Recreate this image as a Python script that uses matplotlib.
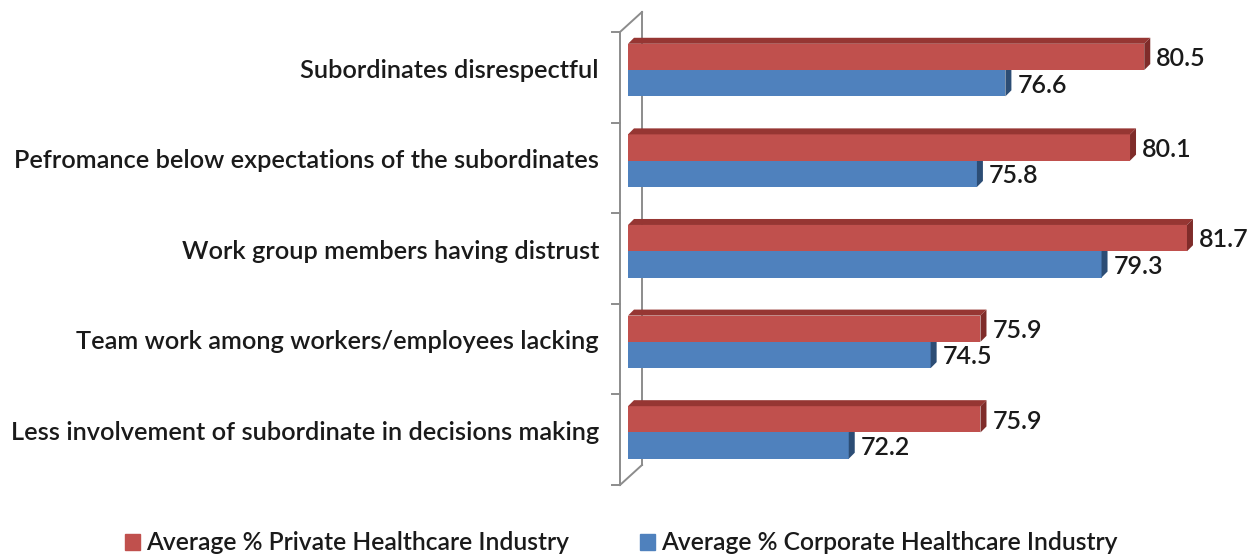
import matplotlib
matplotlib.use("Agg")
import matplotlib.pyplot as plt
from matplotlib.patches import Polygon, Rectangle
from matplotlib.lines import Line2D

categories = [
    "Subordinates disrespectful",
    "Pefromance below expectations of the subordinates",
    "Work group members having distrust",
    "Team work among workers/employees lacking",
    "Less involvement of subordinate in decisions making",
]
private_vals = [80.5, 80.1, 81.7, 75.9, 75.9]
corporate_vals = [76.6, 75.8, 79.3, 74.5, 72.2]
series_names = ["Average % Private Healthcare Industry",
                "Average % Corporate Healthcare Industry"]

RED, RED_DARK, RED_TOP = "#C0504D", "#7F2C2A", "#963633"
BLUE, BLUE_DARK = "#4F81BD", "#2C4D75"
WALL = "#8C8C8C"
FONT = "Lato"
TXT = "#1a1a1a"

W, H = 1250, 556
fig = plt.figure(figsize=(W / 100, H / 100), dpi=100)
fig.patch.set_facecolor("white")

# plot area in pixels
ax_l, ax_r, ax_t, ax_b = 628, 1250, 32, 485
ax = fig.add_axes([ax_l / W, (H - ax_b) / H, (ax_r - ax_l) / W, (ax_b - ax_t) / H])
XMIN, XMAX = 66.0, 83.47
ax.set_xlim(XMIN, XMAX)
ax.set_ylim(len(categories), 0)
ax.axis("off")

px_x = (ax_r - ax_l) / (XMAX - XMIN)      # pixels per x unit
px_y = (ax_b - ax_t) / len(categories)    # pixels per category
DX = 6 / px_x                              # depth offset (right)
DY = -6 / px_y                             # depth offset (up)

# bar placement inside each category band
R0, R1 = 0.13, 0.42
B0, B1 = 0.42, 0.71

# 3D wall on the left
def wline(xs, ys):
    ax.add_line(Line2D(xs, ys, transform=ax.transAxes, color=WALL, lw=1.4,
                       clip_on=False))

fx = (620 - ax_l) / (ax_r - ax_l)
bx = (642 - ax_l) / (ax_r - ax_l)
lift = 20 / (ax_b - ax_t)
wline([fx, fx], [0, 1])
wline([bx, bx], [lift, 1 + lift])
wline([fx, bx], [1, 1 + lift])
wline([fx, bx], [0, lift])
tx = (612 - ax_l) / (ax_r - ax_l)
for k in range(len(categories) + 1):
    yy = k / len(categories)
    wline([tx, fx], [yy, yy])

for i, (pv, cv) in enumerate(zip(private_vals, corporate_vals)):
    # corporate (blue) bar
    ax.barh(i + (B0 + B1) / 2, cv - XMIN, left=XMIN, height=B1 - B0,
            color=BLUE, edgecolor="none", zorder=2)
    ax.add_patch(Polygon([(cv, i + B1), (cv, i + B0), (cv + DX, i + B0 + DY),
                          (cv + DX, i + B1 + DY)], closed=True,
                         facecolor=BLUE_DARK, edgecolor="none", zorder=2))
    # private (red) bar
    ax.barh(i + (R0 + R1) / 2, pv - XMIN, left=XMIN, height=R1 - R0,
            color=RED, edgecolor="none", zorder=3)
    ax.add_patch(Polygon([(XMIN, i + R0), (pv, i + R0), (pv + DX, i + R0 + DY),
                          (XMIN + DX, i + R0 + DY)], closed=True,
                         facecolor=RED_TOP, edgecolor="none", zorder=3))
    ax.add_patch(Polygon([(pv, i + R1), (pv, i + R0), (pv + DX, i + R0 + DY),
                          (pv + DX, i + R1 + DY)], closed=True,
                         facecolor=RED_DARK, edgecolor="none", zorder=3))
    # value labels
    off = 12 / px_x
    ax.text(pv + off, i + (R0 + R1) / 2 + 0.02, f"{pv:.1f}", fontsize=18,
            family=FONT, weight="semibold", va="center", ha="left", color=TXT,
            clip_on=False)
    ax.text(cv + off, i + (B0 + B1) / 2 + 0.02, f"{cv:.1f}", fontsize=18,
            family=FONT, weight="semibold", va="center", ha="left", color=TXT,
            clip_on=False)
    # category label
    ax.text(XMIN - (ax_l - 599) / px_x, i + 0.42, categories[i], fontsize=18.3,
            family=FONT, weight="semibold", va="center", ha="right", color=TXT,
            clip_on=False)

# legend
handles = [Rectangle((0, 0), 1, 1, color=RED), Rectangle((0, 0), 1, 1, color=BLUE)]
fig.legend(handles, series_names, loc="center", bbox_to_anchor=(0.497, 1 - 543 / H),
           ncol=2, frameon=False,
           prop={"family": FONT, "size": 17.7, "weight": "semibold"},
           handlelength=0.6, handleheight=0.6, handletextpad=0.25,
           columnspacing=2.9, labelcolor=TXT)

fig.savefig("out.png", dpi=100, facecolor="white")
